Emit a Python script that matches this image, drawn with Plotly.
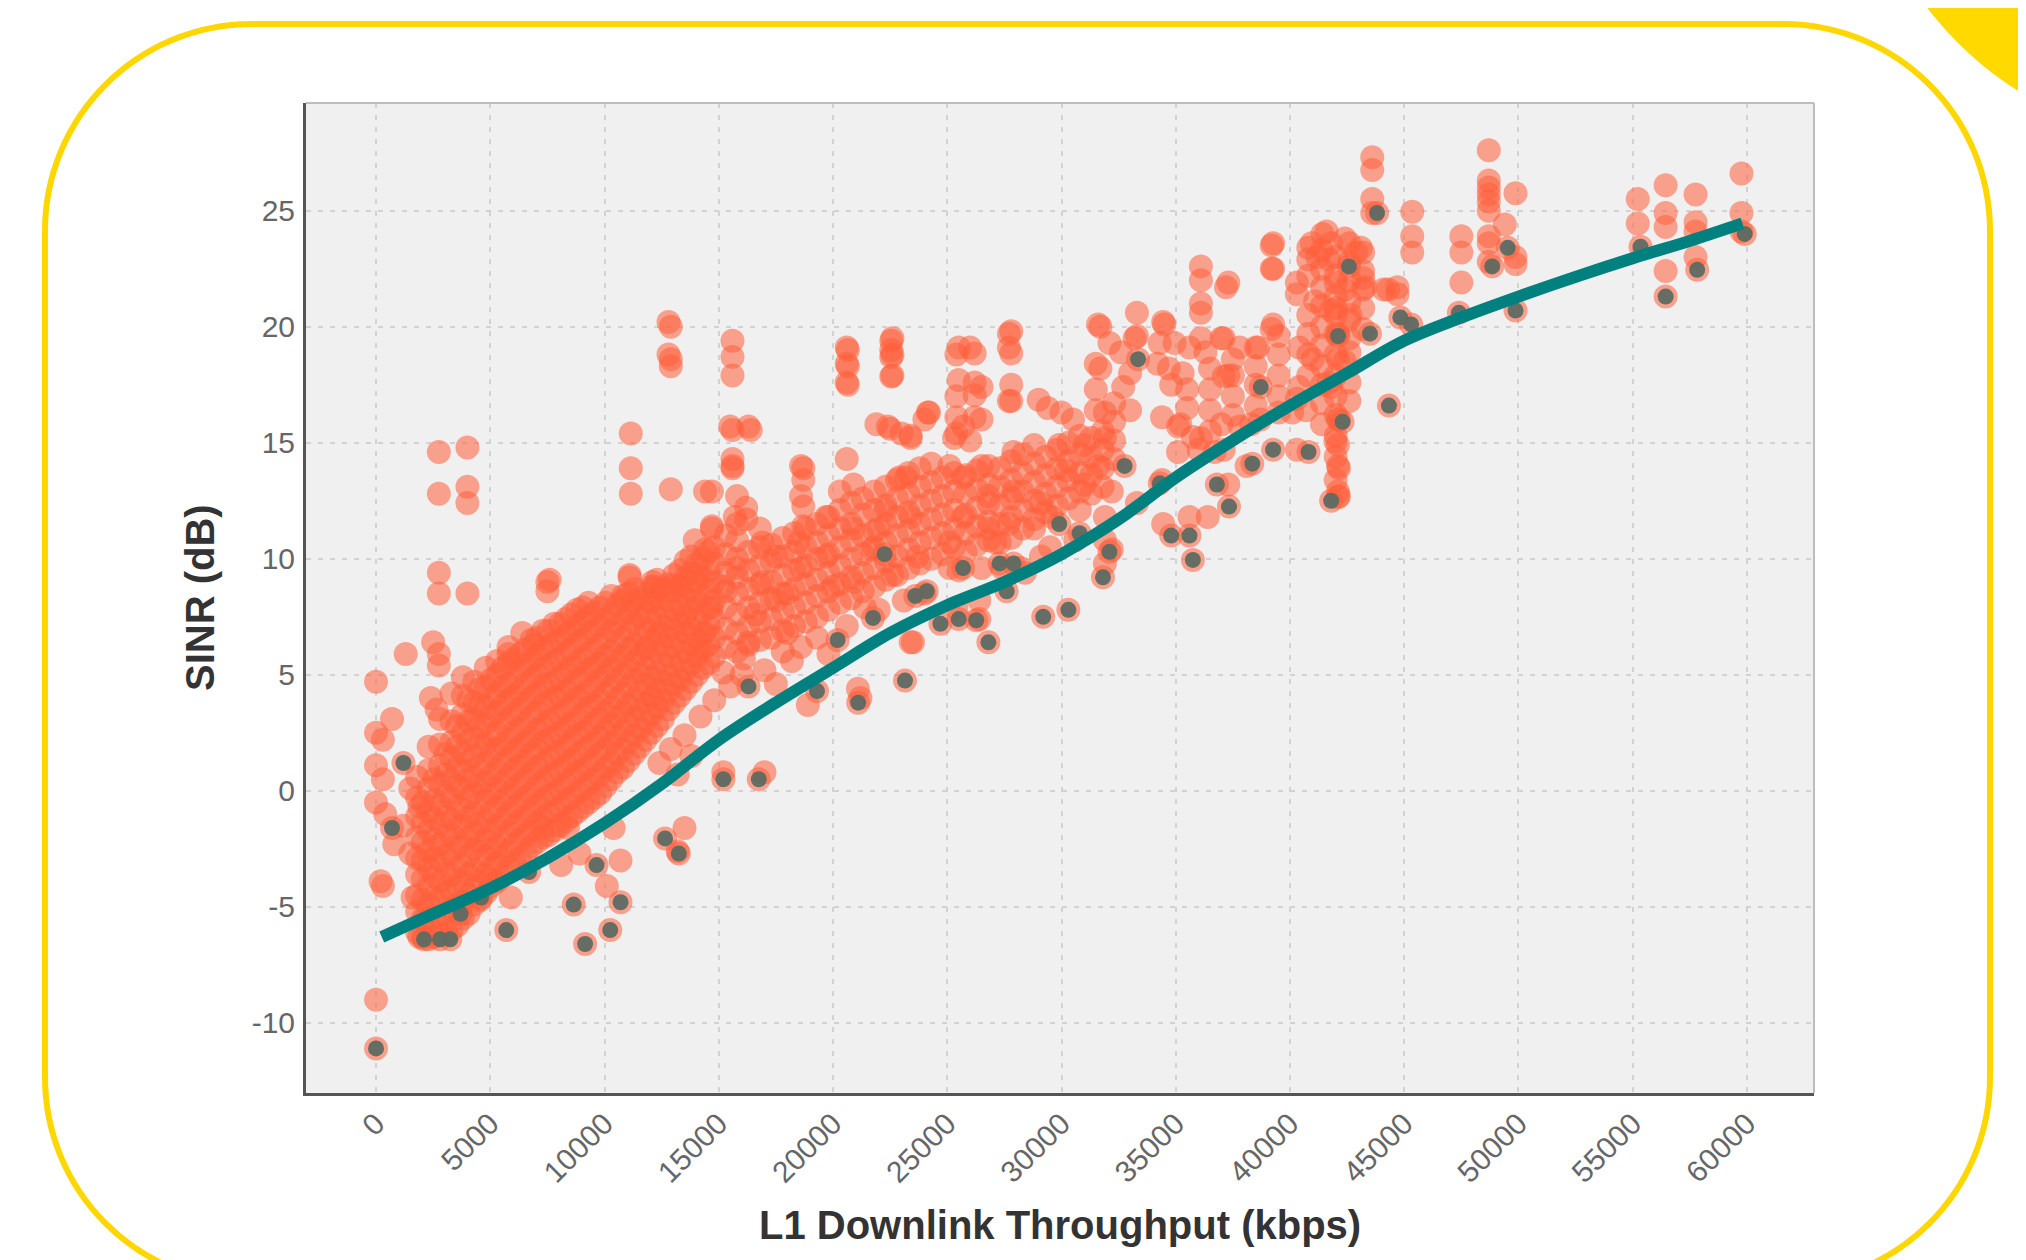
import plotly.graph_objects as go

# ---------------- data ----------------
x_tick_vals = [0, 5000, 10000, 15000, 20000, 25000, 30000, 35000, 40000, 45000, 50000, 55000, 60000]
x_tick_text = ["0", "5000", "10000", "15000", "20000", "25000", "30000", "35000", "40000", "45000", "50000", "55000", "60000"]
y_tick_vals = [-10, -5, 0, 5, 10, 15, 20, 25]
y_tick_text = ["-10", "-5", "0", "5", "10", "15", "20", "25"]

# scattered (isolated) orange points: (throughput kbps, SINR dB)
orange_points = [
    (0, 4.7), (0, 2.5), (300, 2.2), (700, 3.1), (0, 1.1), (300, 0.5), (0, -0.5), (400, -1.0),
    (300, -4.1), (200, -3.9), (0, -9.0), (1300, 5.9), (1500, 0.1), (1900, -0.7), (1200, -1.5), (800, -2.3),
    (2750, 14.6), (4000, 14.8), (2750, 12.8), (4000, 13.1), (4000, 12.4), (2750, 9.4), (2750, 8.5),
    (4000, 8.5), (2500, 6.4), (2750, 5.9), (2750, 5.4), (2400, 4.0), (2650, 3.5), (7500, 9.0),
    (7500, 8.6), (7600, 9.1), (6400, 6.8), (6900, 6.3), (5800, 5.9),
    (12900, 20.0), (12900, 18.6), (12900, 18.3), (15600, 19.4), (15600, 18.7), (15600, 17.9),
    (11150, 15.4), (11150, 13.9), (11150, 12.8), (15600, 15.55), (16400, 15.55), (15600, 14.3),
    (15600, 13.9), (14700, 12.9), (15800, 12.7), (16200, 12.2), (16200, 11.7), (14700, 11.4),
    (18700, 13.9), (18700, 13.4), (18700, 12.25), (18700, 11.4), (11100, 9.2), (10800, 8.4),
    (12200, 8.8), (13400, 8.9), (13950, 10.8), (12900, 13.0), (14400, 12.9), (14700, 11.3),
    (14400, 10.4), (15700, 11.8), (15600, 14.0),
    (12400, 1.2), (12900, 1.8), (13500, 2.4), (13800, 1.5), (14200, 3.2), (14800, 3.9),
    (15500, 4.5), (16000, 5.0), (17000, 5.2), (17500, 4.6), (18200, 5.6), (18600, 6.2),
    (19300, 6.6), (20600, 7.1), (22000, 7.8), (19800, 5.9),
    (20650, 19.0), (20650, 18.3), (20650, 17.5), (22550, 19.4), (22550, 19.0), (22550, 18.7),
    (22550, 17.85), (21900, 15.8), (22500, 15.6), (23400, 15.3), (24150, 16.3), (25400, 18.8),
    (26200, 18.85), (25400, 17.0), (26200, 17.6), (26200, 17.05), (26200, 16.1), (25400, 16.1),
    (25400, 15.4), (26000, 15.1), (27800, 19.8), (27800, 18.85), (27800, 17.5), (27800, 16.8),
    (29000, 16.85), (29400, 16.5), (30000, 16.3), (31700, 20.0), (33300, 20.6), (34500, 20.1),
    (34950, 19.3), (36100, 22.6), (36100, 22.0), (37200, 21.7), (36100, 21.0), (36100, 20.6),
    (36100, 19.5), (36300, 18.9), (37000, 19.5), (37100, 17.85), (39260, 23.6), (39260, 22.5),
    (40300, 21.4), (39260, 20.1), (38600, 19.1), (31500, 18.4), (31500, 17.3), (31500, 16.4),
    (32600, 18.9), (33000, 18.0), (33300, 19.6), (33000, 16.4), (34200, 18.4), (34800, 17.5),
    (35300, 18.0), (34400, 16.1), (35200, 15.8), (35750, 15.25), (36000, 14.7), (37000, 15.8),
    (37100, 14.7), (38300, 15.8), (35600, 11.8), (40300, 16.9),
    (34450, 20.2), (34300, 19.3), (33200, 19.5), (32100, 19.3), (31600, 20.1), (31700, 18.2),
    (32700, 17.4), (34700, 18.2), (35600, 19.1), (37300, 21.9), (37100, 19.5), (37300, 17.9),
    (37800, 19.1), (38500, 19.1), (39200, 19.9), (39200, 23.5), (39200, 22.5), (37800, 15.7),
    (38700, 16.0), (39500, 16.3), (40100, 16.3), (38100, 14.0), (37300, 13.2), (36400, 11.8),
    (34400, 13.4), (35100, 14.6), (35100, 15.7), (36100, 15.2), (36700, 14.6), (34450, 11.5),
    (33300, 12.4), (32200, 12.9), (31600, 14.0), (31900, 15.2), (31900, 16.3), (31000, 14.9),
    (30500, 16.0), (29900, 14.9), (30200, 13.8), (31000, 13.2), (31900, 11.8), (31900, 10.8),
    (32200, 10.4), (30800, 12.1), (29600, 11.8), (29100, 12.4), (28800, 11.3), (29100, 10.1),
    (28200, 9.6), (27400, 9.6), (27100, 10.7), (27700, 11.5), (27900, 12.9), (27900, 14.6),
    (27700, 16.8), (27700, 19.1), (27700, 19.7), (26500, 17.4), (26500, 16.0), (26500, 14.0),
    (26800, 12.7), (26800, 11.3), (26500, 9.6), (25700, 11.8), (25700, 13.5), (25700, 15.7),
    (25500, 17.7), (25500, 19.1), (26000, 19.1), (25300, 15.2), (25100, 14.0), (25100, 10.7),
    (25100, 9.6), (25400, 7.9), (26400, 7.4), (24000, 8.5), (23700, 10.1), (23400, 11.8),
    (23200, 13.5), (23400, 15.2), (24000, 16.0), (24200, 16.3), (22600, 19.5), (22600, 18.8),
    (22600, 17.9), (22400, 15.7), (23000, 15.4), (22900, 13.5), (22300, 12.1), (22000, 11.3),
    (21700, 10.4), (22600, 9.3), (23100, 8.2), (23400, 6.4), (20900, 13.2), (20900, 11.3),
    (20600, 19.1), (20600, 18.4), (20600, 17.6), (20600, 14.3), (20300, 12.9), (19700, 11.8),
    (19700, 10.1), (20000, 8.8), (20900, 9.0), (21400, 7.9), (21200, 4.0), (18900, 3.7),
    (18600, 14.0), (18600, 12.7), (18500, 10.7), (18600, 9.6), (18000, 8.5), (18000, 6.8),
    (17800, 6.0), (17500, 10.1), (17500, 8.2), (16900, 10.7), (16900, 9.0), (16600, 7.6),
    (16300, 6.4), (16100, 5.7), (15800, 9.6), (16300, 15.7), (15500, 15.7), (14100, 9.3),
    (15200, 8.8), (14700, 7.9), (14400, 6.8), (14100, 6.0), (15200, 0.8), (17000, 0.8),
    (15200, 5.1), (12800, 20.2), (12800, 18.8), (13500, 7.4), (12900, 8.8), (12100, 8.2),
    (12100, 9.0), (11100, 9.3), (11300, 8.2), (12400, 6.8), (11800, 6.2), (12100, 4.0),
    (13200, 0.7), (13500, -1.6), (13200, -2.6), (10400, -1.6), (10700, -3.0), (10100, -4.1),
    (8900, -2.7), (8400, -1.6), (7300, -1.6), (8100, -3.2), (5900, -4.6), (5000, -3.8),
    (1900, -6.3), (2100, -5.6), (1600, -4.6), (1500, -2.7), (23500, 6.4), (21090, 4.4),
    (26400, 8.2), (25500, 9.5), (28400, 9.4), (31900, 9.8), (29500, 10.5), (30600, 10.8),
    (43600, 27.3), (43600, 26.75), (43600, 25.5), (43600, 24.9), (45350, 24.95), (45350, 23.9),
    (45350, 23.2), (47500, 23.9), (47500, 23.2), (47500, 21.9), (48700, 27.6), (48700, 26.3),
    (48700, 26.0), (48700, 25.7), (48700, 25.4), (48700, 25.0), (48700, 23.9), (48700, 23.6),
    (48700, 22.8), (49400, 24.4), (49870, 25.75), (49870, 23.0), (49870, 22.7), (55220, 25.5),
    (55220, 24.45), (56440, 26.1), (56440, 24.9), (56440, 24.3), (56440, 22.4), (57750, 25.7),
    (57750, 24.5), (57750, 24.1), (57750, 23.0), (59760, 26.6), (59760, 24.9), (59760, 24.1),
    (41420, 24.0), (40800, 23.4), (43100, 23.4), (41700, 22.9), (42000, 21.9), (43300, 21.7),
    (44100, 21.6), (44700, 21.4), (42000, 20.8), (41100, 21.1), (40300, 21.9), (42100, 19.7),
    (42100, 18.6), (41000, 18.6), (41700, 17.6), (41600, 24.1), (41800, 23.6), (40950, 23.6),
    (42400, 23.8), (42900, 23.2), (41200, 23.0), (43200, 22.1), (42400, 21.6), (41800, 20.7),
    (42650, 20.5), (40400, 19.1), (40400, 17.4), (41800, 17.4), (42400, 18.5), (42100, 16.0),
    (42100, 14.9), (42100, 14.0), (42100, 12.65), (42100, 12.9), (44300, 21.6), (44700, 21.7),
    (42140, 16.0), (41990, 15.05), (42140, 13.9), (42140, 12.7), (40700, 16.4), (40300, 14.7),
]

# dense part of the cloud: column throughput -> SINR values read down each column
dense_columns = {
    1800: [-6.1, -5.2, -4.5, -3.6, -2.9, -2.0, -1.1, -0.3, 0.6],
    2300: [-6.4, -5.6, -4.9, -4.1, -3.3, -2.6, -1.7, -0.9, 0.1, 0.9, 1.9],
    2800: [-6.2, -5.4, -4.6, -3.9, -3.0, -2.3, -1.4, -0.6, 0.3, 1.1, 2.0, 3.1],
    3300: [-6.0, -5.1, -4.3, -3.6, -2.7, -1.9, -1.2, -0.3, 0.5, 1.4, 2.1, 3.0, 4.2],
    3800: [-5.5, -4.8, -3.9, -3.2, -2.4, -1.5, -0.8, 0.1, 0.9, 1.6, 2.5, 3.3, 4.1, 4.9],
    4300: [-4.9, -4.1, -3.4, -2.5, -1.8, -1.0, -0.1, 0.6, 1.5, 2.3, 3.1, 3.8, 4.7],
    4800: [-4.4, -3.6, -2.8, -2.1, -1.3, -0.4, 0.4, 1.2, 2.0, 2.9, 3.6, 4.5, 5.3],
    5300: [-3.9, -3.1, -2.4, -1.5, -0.7, 0.1, 0.9, 1.8, 2.5, 3.4, 4.2, 5.0, 5.6],
    5800: [-3.3, -2.6, -1.8, -1.0, -0.2, 0.6, 1.4, 2.2, 3.1, 3.9, 4.6, 5.5, 6.2],
    6300: [-2.9, -2.1, -1.3, -0.5, 0.3, 1.1, 1.9, 2.7, 3.5, 4.3, 5.2, 5.9],
    6800: [-2.4, -1.7, -0.9, -0.1, 0.8, 1.6, 2.3, 3.2, 4.0, 4.8, 5.6, 6.5],
    7300: [-2.0, -1.2, -0.4, 0.4, 1.2, 2.1, 2.8, 3.7, 4.5, 5.3, 6.1, 6.9],
    7800: [-1.7, -0.9, -0.1, 0.7, 1.5, 2.3, 3.1, 4.0, 4.7, 5.6, 6.4, 7.2],
    8300: [-1.3, -0.5, 0.3, 1.1, 1.9, 2.7, 3.5, 4.3, 5.1, 5.9, 6.7, 7.4],
    8800: [-0.9, -0.1, 0.8, 1.5, 2.4, 3.1, 4.0, 4.8, 5.5, 6.4, 7.1, 7.8],
    9300: [-0.5, 0.3, 1.1, 1.9, 2.7, 3.6, 4.3, 5.2, 5.9, 6.8, 7.5, 8.1],
    9800: [-0.1, 0.7, 1.6, 2.3, 3.1, 3.9, 4.8, 5.5, 6.3, 7.1, 7.9],
    10300: [0.5, 1.2, 2.1, 2.9, 3.6, 4.5, 5.3, 6.0, 6.9, 7.6, 8.4],
    10800: [1.0, 1.8, 2.6, 3.4, 4.2, 5.0, 5.8, 6.6, 7.4, 8.2],
    11300: [1.6, 2.4, 3.2, 3.9, 4.8, 5.6, 6.3, 7.2, 7.9, 8.7],
    11800: [2.2, 3.0, 3.8, 4.6, 5.3, 6.1, 7.0, 7.7, 8.5],
    12300: [2.8, 3.6, 4.4, 5.1, 6.0, 6.7, 7.5, 8.3, 9.1],
    12800: [3.5, 4.3, 5.0, 5.8, 6.6, 7.4, 8.2, 8.9],
    13300: [4.1, 4.8, 5.6, 6.4, 7.2, 8.0, 8.8, 9.5],
    13800: [4.7, 5.5, 6.3, 7.0, 7.9, 8.6, 9.4, 10.1],
    14300: [5.3, 6.1, 6.8, 7.7, 8.4, 9.2, 10.0],
    14800: [5.8, 6.6, 7.4, 8.2, 9.0, 9.8, 10.5],
    15300: [6.2, 7.0, 7.9, 8.6, 9.4, 10.2, 11.0],
    15800: [6.0, 6.8, 7.6, 8.5, 9.2, 10.0, 10.8, 11.5],
    16300: [6.3, 7.1, 7.9, 8.7, 9.5, 10.3],
    16800: [6.5, 7.3, 8.1, 8.9, 9.7, 10.5, 11.3],
    17300: [6.6, 7.4, 8.3, 9.0, 9.9, 10.6],
    17800: [6.9, 7.7, 8.5, 9.3, 10.1, 10.9],
    18300: [7.1, 7.9, 8.7, 9.5, 10.3, 11.1],
    18800: [7.3, 8.1, 8.9, 9.7, 10.5, 11.3],
    19300: [7.5, 8.4, 9.1, 10.0, 10.7, 11.5],
    19800: [7.8, 8.6, 9.4, 10.2, 11.0, 11.8],
    20300: [8.1, 8.9, 9.7, 10.5, 11.3, 12.1],
    20800: [8.3, 9.2, 10.0, 10.8, 11.5, 12.4],
    21300: [8.6, 9.4, 10.2, 11.0, 11.9, 12.6],
    21800: [8.8, 9.6, 10.5, 11.2, 12.1, 12.9],
    22300: [9.1, 9.9, 10.7, 11.5, 12.3, 13.1],
    22800: [9.3, 10.1, 11.0, 11.8, 12.6, 13.4],
    23300: [9.6, 10.4, 11.2, 12.0, 12.8, 13.7],
    23800: [9.8, 10.7, 11.5, 12.3, 13.1, 13.9],
    24300: [10.0, 10.9, 11.7, 12.5, 13.3, 14.1],
    24800: [10.2, 11.1, 11.9, 12.7, 13.5],
    25300: [10.5, 11.3, 12.1, 12.9, 13.7],
    25800: [10.3, 11.1, 11.9, 12.8, 13.6],
    26300: [10.6, 11.4, 12.2, 13.0, 13.8],
    26800: [10.8, 11.6, 12.4, 13.2, 14.0],
    27300: [10.7, 11.5, 12.3, 13.1, 13.9],
    27800: [10.9, 11.8, 12.6, 13.4, 14.2],
    28300: [11.3, 12.1, 12.9, 13.7, 14.5],
    28800: [11.7, 12.5, 13.3, 14.1, 14.9],
    29300: [12.0, 12.8, 13.6, 14.4],
    29800: [12.3, 13.1, 13.9, 14.7],
    30300: [12.6, 13.4, 14.2, 15.0],
    30800: [12.9, 13.7, 14.5, 15.3],
    31300: [12.8, 13.6, 14.4, 15.2],
    31800: [13.1, 13.9, 14.7, 15.5],
    32300: [14.3, 15.1, 15.9, 16.7],
    35500: [16.5, 17.3],
    36500: [15.5, 16.4, 17.3, 18.2],
    37500: [16.2, 17.0, 17.9, 18.6],
    38500: [16.6, 17.5, 18.3],
    39500: [17.0, 17.9, 18.8, 19.6],
    40800: [17.9, 18.8, 19.7, 20.5, 22.2, 22.9],
    41400: [15.8, 16.7, 17.5, 18.3, 19.2, 20.0, 20.9, 21.7, 22.5, 23.3],
    42000: [13.4, 14.4, 15.3, 16.2, 17.0, 17.9, 18.8, 19.7, 20.5, 21.3, 22.2, 23.0],
    42600: [16.8, 17.6, 18.9, 19.5, 20.3, 21.1, 22.0, 22.8, 23.6],
    43200: [19.9, 20.8, 21.6, 22.4, 23.2],
}

# second, interleaved set of columns in the solid core of the cloud
dense_columns_b = {
    2050: [-6.3, -5.5, -4.7, -3.8, -3.0, -2.2, -1.4, -0.5],
    2550: [-6.3, -5.4, -4.6, -3.7, -2.9, -2.1, -1.2, -0.4, 0.5],
    3050: [-6.1, -5.3, -4.4, -3.6, -2.8, -1.9, -1.1, -0.2, 0.7, 1.6],
    3550: [-5.8, -4.9, -4.1, -3.3, -2.4, -1.6, -0.7, 0.2, 1.0, 1.9, 2.8],
    4050: [-5.3, -4.5, -3.6, -2.8, -2.0, -1.1, -0.3, 0.5, 1.3, 2.2, 3.0, 3.9],
    4550: [-4.7, -3.9, -3.0, -2.2, -1.4, -0.5, 0.3, 1.1, 2.0, 2.8, 3.7, 4.4],
    5050: [-4.1, -3.3, -2.5, -1.7, -0.9, -0.1, 0.7, 1.6, 2.4, 3.2, 4.0, 4.8],
    5550: [-3.6, -2.8, -2.0, -1.2, -0.4, 0.4, 1.2, 2.0, 2.9, 3.7, 4.5, 5.3],
    6050: [-3.1, -2.3, -1.5, -0.7, 0.1, 0.9, 1.7, 2.5, 3.3, 4.1, 4.9, 5.7],
    6550: [-2.7, -1.9, -1.1, -0.3, 0.5, 1.3, 2.1, 2.9, 3.8, 4.6, 5.4, 6.1],
    7050: [-2.2, -1.4, -0.6, 0.2, 1.0, 1.8, 2.6, 3.4, 4.2, 5.0, 5.8, 6.6],
    7550: [-1.9, -1.0, -0.2, 0.6, 1.4, 2.2, 3.0, 3.8, 4.6, 5.4, 6.2, 6.9],
    8050: [-1.5, -0.7, 0.1, 0.9, 1.7, 2.5, 3.3, 4.1, 4.9, 5.7, 6.5, 7.2],
    8550: [-1.1, -0.3, 0.5, 1.3, 2.1, 2.9, 3.7, 4.5, 5.3, 6.1, 6.9, 7.6],
    9050: [-0.7, 0.1, 0.9, 1.7, 2.5, 3.3, 4.1, 4.9, 5.7, 6.5, 7.3, 7.9],
    9550: [-0.3, 0.5, 1.3, 2.1, 2.9, 3.7, 4.5, 5.3, 6.1, 6.9, 7.7],
    10050: [0.2, 1.0, 1.8, 2.6, 3.4, 4.2, 5.0, 5.8, 6.6, 7.4, 8.1],
    10550: [0.8, 1.6, 2.4, 3.2, 4.0, 4.8, 5.6, 6.4, 7.2, 8.0],
    11050: [1.3, 2.1, 2.9, 3.7, 4.5, 5.3, 6.1, 6.9, 7.7, 8.5],
    11550: [1.9, 2.7, 3.5, 4.3, 5.1, 5.9, 6.7, 7.5, 8.3],
    12050: [2.5, 3.3, 4.1, 4.9, 5.7, 6.5, 7.3, 8.1, 8.8],
    12550: [3.1, 3.9, 4.7, 5.5, 6.3, 7.1, 7.9, 8.7],
    13050: [3.8, 4.6, 5.4, 6.2, 7.0, 7.8, 8.6, 9.3],
    13550: [4.4, 5.2, 6.0, 6.8, 7.6, 8.4, 9.2, 9.9],
    14050: [5.0, 5.8, 6.6, 7.4, 8.2, 9.0, 9.8],
    14550: [5.5, 6.3, 7.1, 7.9, 8.7, 9.5, 10.3],
}

# dark (grey) points, each sitting inside an orange circle
dark_points = [
    (700, -1.6), (1200, 1.2), (0, -11.1), (2100, -6.4), (2800, -6.4), (3250, -6.4), (3700, -5.3),
    (4600, -4.6), (5700, -6.0), (6700, -3.5), (8650, -4.9), (9150, -6.6), (9650, -3.2),
    (10250, -6.0), (10700, -4.8), (12650, -2.05), (13250, -2.7), (15200, 0.5), (16750, 0.5),
    (16300, 4.5), (19300, 4.3), (21100, 3.8), (20200, 6.5), (21750, 7.45), (23150, 4.75),
    (24700, 7.2), (25500, 7.4), (26800, 6.4), (26270, 7.35), (29200, 7.5), (30300, 7.8),
    (31815, 9.2), (32100, 10.3), (30790, 11.1), (29900, 11.5), (27290, 9.8), (27900, 9.8),
    (27600, 8.6), (25690, 9.6), (24100, 8.6), (22255, 10.2), (23600, 8.4), (35750, 9.95),
    (34800, 11.0), (35600, 11.0), (34300, 13.25), (32760, 14.0), (33350, 18.6), (36800, 13.2),
    (37330, 12.25), (38350, 14.1), (39260, 14.7), (38720, 17.4), (40810, 14.6), (41800, 12.5),
    (42300, 15.9), (44330, 16.6), (42100, 19.6), (43500, 19.7), (44830, 20.4), (45300, 20.1),
    (42580, 22.6), (43810, 24.9), (47390, 20.6), (48850, 22.6), (49530, 23.4), (49870, 20.7),
    (55340, 23.45), (56440, 21.3), (57820, 22.45), (59900, 24.0),
]

# smooth trend line
trend_x = [250, 2500, 5000, 7500, 10000, 12500, 15000, 17500, 20000, 22500, 25000, 27500, 30000,
           32500, 35000, 37500, 40000, 42500, 45000, 47500, 50000, 52500, 55000, 57500, 59800]
trend_y = [-6.3, -5.3, -4.2, -2.9, -1.4, 0.3, 2.2, 3.8, 5.3, 6.8, 8.0, 9.0, 10.2,
           11.7, 13.5, 15.1, 16.6, 18.0, 19.4, 20.4, 21.3, 22.15, 22.95, 23.7, 24.45]

# ---------------- assemble ----------------
ox = [p[0] for p in orange_points]
oy = [p[1] for p in orange_points]
for cols in (dense_columns, dense_columns_b):
    for cx, ys in cols.items():
        for yv in ys:
            ox.append(cx)
            oy.append(yv)
dx = [p[0] for p in dark_points]
dy = [p[1] for p in dark_points]
ox += dx
oy += dy

OFF = 8                      # the page body offsets the figure by 8 px
W, H = 2026 - OFF, 1260 - OFF
# plot area in screen pixels
SL, ST, SR, SB = 306, 103, 1814, 1093
PL, PT = SL - OFF, ST - OFF
PW, PH = SR - SL, SB - ST


def px(sx):
    return (sx - SL) / PW


def py(sy):
    return (SB - sy) / PH


fig = go.Figure()
fig.add_trace(go.Scatter(
    x=ox, y=oy, mode="markers",
    marker=dict(size=24, color="#FF5E3A", opacity=0.55, line=dict(width=0)),
    hoverinfo="skip", showlegend=False))
fig.add_trace(go.Scatter(
    x=dx, y=dy, mode="markers",
    marker=dict(size=16, color="#5E6A62", opacity=0.95, line=dict(width=0)),
    hoverinfo="skip", showlegend=False))
fig.add_trace(go.Scatter(
    x=trend_x, y=trend_y, mode="lines",
    line=dict(color="#00807F", width=12, shape="spline"),
    hoverinfo="skip", showlegend=False))

# decorative yellow rounded frame (screen pixel geometry)
x0, y0, x1, y1, r = 45, 24, 1990, 1284, 207
k = 0.5523 * r
segs = [
    ("M", [(x0 + r, y0)]),
    ("L", [(x1 - r, y0)]),
    ("C", [(x1 - r + k, y0), (x1, y0 + r - k), (x1, y0 + r)]),
    ("L", [(x1, y1 - r)]),
    ("C", [(x1, y1 - r + k), (x1 - r + k, y1), (x1 - r, y1)]),
    ("L", [(x0 + r, y1)]),
    ("C", [(x0 + r - k, y1), (x0, y1 - r + k), (x0, y1 - r)]),
    ("L", [(x0, y0 + r)]),
    ("C", [(x0, y0 + r - k), (x0 + r - k, y0), (x0 + r, y0)]),
]
path = ""
for cmd, pts in segs:
    path += cmd + " " + " ".join(f"{px(a):.5f},{py(b):.5f}" for a, b in pts) + " "
path += "Z"

shapes = [
    dict(type="path", xref="paper", yref="paper", path=path,
         line=dict(color="#FFD700", width=6), fillcolor="rgba(0,0,0,0)", layer="above"),
    dict(type="circle", xref="paper", yref="paper",
         x0=px(2200 - 343), x1=px(2200 + 343), y0=py(-200 + 343), y1=py(-200 - 343),
         line=dict(width=0), fillcolor="#FFD900", layer="above"),
    dict(type="line", xref="paper", yref="paper", x0=0, x1=1, y0=1, y1=1,
         line=dict(color="#BDBDBD", width=2), layer="above"),
    dict(type="line", xref="paper", yref="paper", x0=1, x1=1, y0=0, y1=1,
         line=dict(color="#BDBDBD", width=2), layer="above"),
]

tick_font = dict(family="Liberation Sans, Arial, sans-serif", size=30, color="#666666")
title_font = dict(family="Liberation Sans, Arial, sans-serif", size=40, color="#333333")

fig.update_layout(
    width=W, height=H,
    margin=dict(l=PL, r=W - PL - PW, t=PT, b=H - PT - PH, pad=0),
    paper_bgcolor="white", plot_bgcolor="#F0F0F0",
    shapes=shapes, showlegend=False,
    annotations=[
        dict(text="<b>L1 Downlink Throughput (kbps)</b>", xref="paper", yref="paper",
             x=0.5, y=py(1225), xanchor="center", yanchor="middle", showarrow=False, font=title_font),
        dict(text="<b>SINR (dB)</b>", xref="paper", yref="paper", textangle=-90,
             x=px(200), y=py(598), xanchor="center", yanchor="middle", showarrow=False, font=title_font),
    ],
)
fig.update_xaxes(
    range=[-3065, 62933], tickmode="array", tickvals=x_tick_vals, ticktext=x_tick_text,
    tickangle=-45, tickfont=tick_font, showgrid=True, gridcolor="#D2D2D2", gridwidth=2,
    griddash="5px,7px", zeroline=False, showline=True, linecolor="#555555", linewidth=3,
    ticks="", ticklabelstandoff=-2, fixedrange=True)
fig.update_yaxes(
    range=[-13.02, 29.64], tickmode="array", tickvals=y_tick_vals, ticktext=y_tick_text,
    tickfont=tick_font, showgrid=True, gridcolor="#D2D2D2", gridwidth=2,
    griddash="5px,7px", zeroline=False, showline=True, linecolor="#555555", linewidth=3,
    ticks="", ticklabelstandoff=2, fixedrange=True)

fig.write_html("out.html")
